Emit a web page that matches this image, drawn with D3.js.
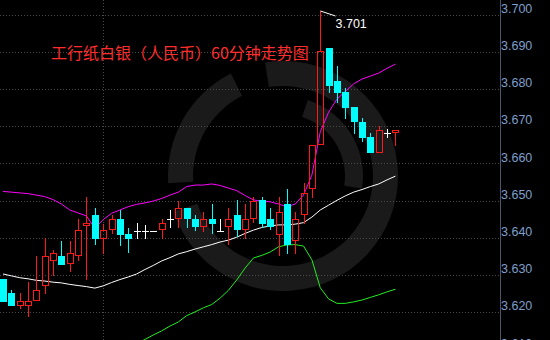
<!DOCTYPE html>
<html>
<head>
<meta charset="utf-8">
<script src="https://cdn.jsdelivr.net/npm/d3@7"></script>
<style>
  body { margin: 0; background: #000; }
  svg { display: block; }
</style>
</head>
<body>
<svg id="chart"></svg>
<script>
let outerWidth = 550;
let outerHeight = 340;
let plotRight = 500;

let titleText = '工行纸白银（人民币）60分钟走势图';
let maxLabel = '3.701';
let yTicks = [3.610, 3.620, 3.630, 3.640, 3.650, 3.660, 3.670, 3.680, 3.690, 3.700];
let sepIndex = [12]; // vertical dotted separator

// hourly candles, oldest first
let openVals = [3.6290,3.6252,3.6220,3.6220,3.6232,3.6273,3.6341,3.6351,3.6332,3.6353,3.6434,3.6462,3.6401,3.6424,3.6451,3.6411,3.6419,3.6419,3.6419,3.6424,3.6450,3.6453,3.6480,3.6451,3.6433,3.6451,3.6419,3.6433,3.6462,3.6423,3.6453,3.6502,3.6451,3.6411,3.6491,3.6394,3.6463,3.6535,3.6652,3.6911,3.6822,3.6791,3.6753,3.6712,3.6672,3.6632,3.6681,3.6684];
let highVals = [3.6290,3.6260,3.6252,3.6282,3.6351,3.6399,3.6368,3.6392,3.6392,3.6450,3.6511,3.6480,3.6437,3.6462,3.6475,3.6426,3.6439,3.6435,3.6419,3.6450,3.6475,3.6500,3.6480,3.6462,3.6469,3.6491,3.6451,3.6480,3.6502,3.6491,3.6509,3.6509,3.6480,3.6509,3.6532,3.6470,3.6548,3.6650,3.7010,3.6911,3.6863,3.6802,3.6753,3.6722,3.6683,3.6701,3.6692,3.6690];
let lowVals = [3.6231,3.6220,3.6212,3.6190,3.6232,3.6253,3.6300,3.6331,3.6312,3.6341,3.6290,3.6383,3.6359,3.6412,3.6381,3.6361,3.6401,3.6401,3.6419,3.6401,3.6430,3.6430,3.6430,3.6421,3.6419,3.6412,3.6419,3.6383,3.6405,3.6401,3.6444,3.6429,3.6423,3.6354,3.6360,3.6360,3.6441,3.6511,3.6652,3.6793,3.6766,3.6722,3.6683,3.6661,3.6632,3.6632,3.6670,3.6650];
let closeVals = [3.6231,3.6220,3.6230,3.6230,3.6260,3.6351,3.6359,3.6331,3.6359,3.6420,3.6439,3.6401,3.6421,3.6450,3.6411,3.6401,3.6419,3.6419,3.6419,3.6439,3.6450,3.6480,3.6453,3.6432,3.6451,3.6441,3.6419,3.6450,3.6423,3.6450,3.6500,3.6441,3.6432,3.6469,3.6383,3.6450,3.6522,3.6650,3.6902,3.6811,3.6793,3.6753,3.6713,3.6672,3.6632,3.6690,3.6681,3.6690];

// bollinger bands
let upperBand = [3.6525,3.6523,3.6521,3.6519,3.6515,3.6511,3.6503,3.6491,3.6475,3.6467,3.6459,3.6426,3.6449,3.6466,3.6475,3.6484,3.6490,3.6494,3.6499,3.6506,3.6515,3.6523,3.6538,3.6542,3.6542,3.6545,3.6541,3.6534,3.6527,3.6514,3.6502,3.6499,3.6497,3.6491,3.6484,3.6491,3.6515,3.6569,3.6685,3.6738,3.6773,3.6794,3.6814,3.6827,3.6835,3.6843,3.6856,3.6867];
let midBand = [3.6303,3.6298,3.6293,3.6290,3.6286,3.6284,3.6281,3.6279,3.6275,3.6272,3.6269,3.6265,3.6271,3.6280,3.6288,3.6295,3.6303,3.6315,3.6326,3.6338,3.6347,3.6357,3.6363,3.6370,3.6376,3.6382,3.6389,3.6394,3.6402,3.6412,3.6421,3.6428,3.6432,3.6435,3.6435,3.6437,3.6441,3.6456,3.6475,3.6488,3.6501,3.6513,3.6523,3.6530,3.6538,3.6545,3.6556,3.6566];
let lowerBand = [3.6081,3.6073,3.6065,3.6061,3.6057,3.6057,3.6059,3.6067,3.6075,3.6077,3.6079,3.6104,3.6093,3.6094,3.6101,3.6106,3.6116,3.6127,3.6139,3.6150,3.6163,3.6174,3.6191,3.6201,3.6212,3.6221,3.6238,3.6259,3.6287,3.6319,3.6346,3.6353,3.6362,3.6376,3.6381,3.6382,3.6378,3.6341,3.6266,3.6236,3.6224,3.6224,3.6228,3.6233,3.6240,3.6247,3.6255,3.6262];

let upColor = '#ff1a1a';
let downColor = '#00ffff';
let flatColor = '#ffffff';

let svg = d3
  .select('#chart')
  .attr('width', outerWidth)
  .attr('height', outerHeight)
  .style('background', '#000');

let idx = d3.range(openVals.length);

let xScale = d3
  .scalePoint()
  .domain(idx)
  .range([3, 395.4]);

let yScale = d3
  .scaleLinear()
  .domain([3.61, 3.70])
  .range([349.5, 14.7]);

svg.append('defs')
  .append('clipPath')
  .attr('id', 'plot-clip')
  .append('rect')
  .attr('width', plotRight)
  .attr('height', outerHeight);

// faint round logo behind everything
let logo = svg.append('g')
  .attr('transform', 'translate(283,176)')
  .attr('fill', '#1a1a1a');
let ringArc = d3.arc().innerRadius(90).outerRadius(115);
logo.append('path').attr('d', ringArc({ startAngle: -0.05 * Math.PI, endAngle: 1.4 * Math.PI }));
logo.append('path').attr('d', ringArc({ startAngle: 1.48 * Math.PI, endAngle: 1.85 * Math.PI }));
logo.append('path')
  .attr('d', d3.arc().innerRadius(62).outerRadius(80)({ startAngle: 0.1 * Math.PI, endAngle: 0.55 * Math.PI }));

// dotted grid
svg.append('g')
  .selectAll('line')
  .data(yTicks)
  .enter()
  .append('line')
  .attr('x1', 0)
  .attr('x2', plotRight)
  .attr('y1', d => Math.round(yScale(d)) + 0.5)
  .attr('y2', d => Math.round(yScale(d)) + 0.5)
  .attr('stroke', '#4a4a4a')
  .attr('stroke-dasharray', '1,2');

svg.append('g')
  .selectAll('line')
  .data(sepIndex)
  .enter()
  .append('line')
  .attr('x1', d => Math.round(xScale(d)) + 0.5)
  .attr('x2', d => Math.round(xScale(d)) + 0.5)
  .attr('y1', 0)
  .attr('y2', outerHeight)
  .attr('stroke', '#4a4a4a')
  .attr('stroke-dasharray', '1,2');

// right axis
svg.append('line')
  .attr('x1', plotRight + 0.5)
  .attr('x2', plotRight + 0.5)
  .attr('y1', 0)
  .attr('y2', outerHeight)
  .attr('stroke', '#50566a');

let yAxis = d3.axisRight(yScale)
  .tickValues(yTicks)
  .tickFormat(d3.format('.3f'))
  .tickSize(0)
  .tickPadding(1);

svg.append('g')
  .attr('transform', 'translate(' + plotRight + ',0)')
  .call(yAxis)
  .call(g => g.select('.domain').remove())
  .selectAll('text')
  .attr('dy', -2.5)
  .attr('fill', '#7f9fcc')
  .style('font', '12.5px "Liberation Sans", Arial, sans-serif');

// title
svg.append('text')
  .attr('x', 51)
  .attr('y', 59)
  .attr('fill', '#ff2e2e')
  .style('font', '16px "Noto Sans CJK SC", sans-serif')
  .text(titleText);

let plot = svg.append('g').attr('clip-path', 'url(#plot-clip)');

// bands
let bandLine = d3.line()
  .x(d => xScale(d[0]))
  .y(d => yScale(d[1]));

let bands = [
  { vals: upperBand, color: '#ff00ff' },
  { vals: midBand, color: '#ffffff' },
  { vals: lowerBand, color: '#22ee22' }
];

bands.forEach(b => {
  plot.append('path')
    .attr('d', bandLine(b.vals.map((v, i) => [i, v])))
    .attr('fill', 'none')
    .attr('stroke', b.color)
    .attr('stroke-width', 1);
});

// candles
let candles = idx.map(i => ({
  i: i, o: openVals[i], h: highVals[i], l: lowVals[i], c: closeVals[i]
}));

let cg = plot.selectAll('g.candle')
  .data(candles)
  .enter()
  .append('g')
  .attr('class', 'candle')
  .attr('shape-rendering', 'crispEdges');

cg.each(function (d) {
  let g = d3.select(this);
  let cx = Math.round(xScale(d.i));
  let top = Math.round(yScale(Math.max(d.o, d.c)));
  let bot = Math.round(yScale(Math.min(d.o, d.c)));
  let hy = Math.round(yScale(d.h));
  let ly = Math.round(yScale(d.l));
  let col = d.c > d.o ? upColor : (d.c < d.o ? downColor : flatColor);

  if (d.c === d.o) {
    g.append('line')
      .attr('x1', cx + 0.5).attr('x2', cx + 0.5)
      .attr('y1', hy).attr('y2', ly + 1)
      .attr('stroke', col);
    g.append('line')
      .attr('x1', cx - 3).attr('x2', cx + 4)
      .attr('y1', top + 0.5).attr('y2', top + 0.5)
      .attr('stroke', col);
  } else if (d.c > d.o) {
    // hollow up candle, wick stops at the body
    g.append('line')
      .attr('x1', cx + 0.5).attr('x2', cx + 0.5)
      .attr('y1', hy).attr('y2', top)
      .attr('stroke', col);
    g.append('line')
      .attr('x1', cx + 0.5).attr('x2', cx + 0.5)
      .attr('y1', bot).attr('y2', ly + 1)
      .attr('stroke', col);
    g.append('rect')
      .attr('x', cx - 3 + 0.5)
      .attr('y', top + 0.5)
      .attr('width', 6)
      .attr('height', Math.max(bot - top, 1))
      .attr('fill', 'none')
      .attr('stroke', col);
  } else {
    g.append('line')
      .attr('x1', cx + 0.5).attr('x2', cx + 0.5)
      .attr('y1', hy).attr('y2', ly + 1)
      .attr('stroke', col);
    g.append('rect')
      .attr('x', cx - 3)
      .attr('y', top)
      .attr('width', 7)
      .attr('height', Math.max(bot - top + 1, 1))
      .attr('fill', col);
  }
});

// max marker
let maxI = d3.maxIndex(highVals);
let mx = Math.round(xScale(maxI)) + 0.5;
let my = Math.round(yScale(highVals[maxI]));

svg.append('path')
  .attr('d', 'M' + mx + ',' + my + 'L' + (mx + 15) + ',' + (my + 5))
  .attr('stroke', '#ffffff')
  .attr('fill', 'none');

svg.append('text')
  .attr('x', mx + 15)
  .attr('y', my + 17)
  .attr('fill', '#ffffff')
  .style('font', '12.5px "Liberation Sans", Arial, sans-serif')
  .text(maxLabel);
</script>
</body>
</html>
